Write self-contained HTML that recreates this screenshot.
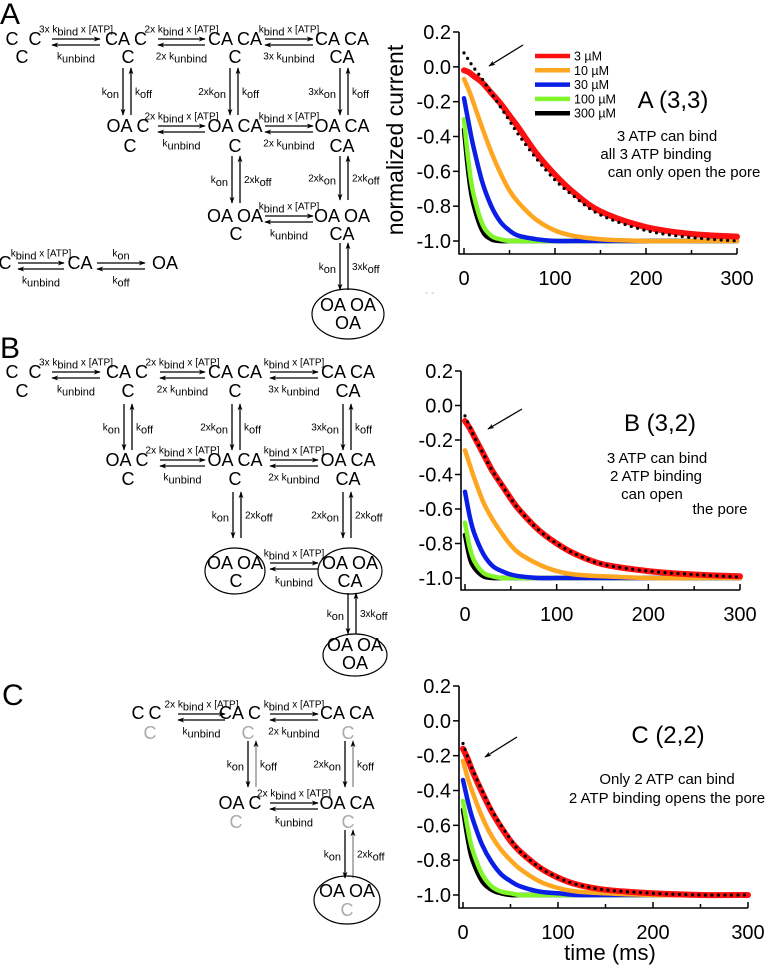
<!DOCTYPE html>
<html><head><meta charset="utf-8">
<style>
html,body{margin:0;padding:0;background:#fff;}
svg{display:block;font-family:"Liberation Sans",Arial,sans-serif;}
</style></head>
<body>
<svg id="fig" width="775" height="976" viewBox="0 0 775 976" xmlns="http://www.w3.org/2000/svg">
<defs>
<marker id="ah" viewBox="0 0 10 10" refX="9" refY="5" markerWidth="7" markerHeight="7" orient="auto-start-reverse" markerUnits="userSpaceOnUse"><path d="M0,1.5 L10,5 L0,8.5 L3,5 z" fill="#000"/></marker>
</defs>
<g id="diagrams"></g>
<g id="charts"></g>
</svg>
<script>
// ---------- chart data ----------
const times = [0,5,10,20,30,40,50,60,80,100,120,150,200,250,300];
const concLabels = ["3 µM","10 µM","30 µM","100 µM","300 µM"];
const seriesColors = ["#ff1010","#ffa620","#0a1ee6","#7ff52a","#000000"];
const xTicks = [0,100,200,300];
const yTicks = [0.2,0.0,-0.2,-0.4,-0.6,-0.8,-1.0];
const yTickLabels = ["0.2","0.0","-0.2","-0.4","-0.6","-0.8","-1.0"];

const a3uM   = [-0.02,-0.03,-0.05,-0.09,-0.15,-0.21,-0.28,-0.35,-0.50,-0.62,-0.72,-0.83,-0.92,-0.96,-0.975];
const a10uM  = [-0.07,-0.13,-0.20,-0.35,-0.49,-0.61,-0.71,-0.78,-0.88,-0.94,-0.97,-0.99,-1.0,-1.0,-1.0];
const a30uM  = [-0.18,-0.32,-0.45,-0.66,-0.80,-0.89,-0.94,-0.97,-0.99,-1.0,-1.0,-1.0,-1.0,-1.0,-1.0];
const a100uM = [-0.30,-0.55,-0.72,-0.90,-0.97,-0.99,-1.0,-1.0,-1.0,-1.0,-1.0,-1.0,-1.0,-1.0,-1.0];
const a300uM = [-0.36,-0.62,-0.78,-0.94,-0.99,-1.0,-1.0,-1.0,-1.0,-1.0,-1.0,-1.0,-1.0,-1.0,-1.0];
const aModel = [0.08,0.04,0.0,-0.07,-0.15,-0.23,-0.31,-0.39,-0.53,-0.65,-0.74,-0.85,-0.94,-0.98,-1.0];

const b3uM   = [-0.09,-0.13,-0.18,-0.28,-0.38,-0.46,-0.54,-0.61,-0.72,-0.80,-0.86,-0.92,-0.96,-0.98,-0.99];
const b10uM  = [-0.26,-0.34,-0.42,-0.56,-0.66,-0.74,-0.81,-0.86,-0.92,-0.96,-0.98,-0.99,-1.0,-1.0,-1.0];
const b30uM  = [-0.50,-0.64,-0.74,-0.86,-0.93,-0.96,-0.98,-0.99,-1.0,-1.0,-1.0,-1.0,-1.0,-1.0,-1.0];
const b100uM = [-0.68,-0.82,-0.90,-0.97,-0.99,-1.0,-1.0,-1.0,-1.0,-1.0,-1.0,-1.0,-1.0,-1.0,-1.0];
const b300uM = [-0.75,-0.88,-0.94,-0.99,-1.0,-1.0,-1.0,-1.0,-1.0,-1.0,-1.0,-1.0,-1.0,-1.0,-1.0];
const bModel = [-0.06,-0.12,-0.18,-0.28,-0.38,-0.46,-0.54,-0.61,-0.72,-0.80,-0.86,-0.92,-0.96,-0.98,-0.995];

const c3uM   = [-0.16,-0.22,-0.29,-0.41,-0.52,-0.61,-0.69,-0.75,-0.84,-0.90,-0.94,-0.97,-0.99,-1.0,-1.0];
const c10uM  = [-0.23,-0.33,-0.41,-0.55,-0.66,-0.74,-0.80,-0.85,-0.92,-0.96,-0.98,-0.99,-1.0,-1.0,-1.0];
const c30uM  = [-0.34,-0.46,-0.56,-0.71,-0.81,-0.88,-0.92,-0.95,-0.98,-0.99,-1.0,-1.0,-1.0,-1.0,-1.0];
const c100uM = [-0.46,-0.62,-0.74,-0.88,-0.95,-0.98,-0.99,-1.0,-1.0,-1.0,-1.0,-1.0,-1.0,-1.0,-1.0];
const c300uM = [-0.51,-0.68,-0.80,-0.92,-0.97,-0.99,-1.0,-1.0,-1.0,-1.0,-1.0,-1.0,-1.0,-1.0,-1.0];
const cModel = [-0.13,-0.21,-0.28,-0.40,-0.51,-0.60,-0.68,-0.75,-0.84,-0.90,-0.94,-0.97,-0.99,-1.0,-1.0];

const NS = "http://www.w3.org/2000/svg";
function mk(tag, parent, attrs){
  const e = document.createElementNS(NS, tag);
  for (const k in attrs) e.setAttribute(k, attrs[k]);
  parent.appendChild(e);
  return e;
}
const charts = document.getElementById("charts");
const diag = document.getElementById("diagrams");

function smooth(pts){
  let d = "M" + pts[0][0].toFixed(1) + "," + pts[0][1].toFixed(1);
  for (let i = 0; i < pts.length-1; i++){
    const p0 = pts[Math.max(0,i-1)], p1 = pts[i], p2 = pts[i+1], p3 = pts[Math.min(pts.length-1,i+2)];
    const c1x = p1[0] + (p2[0]-p0[0])/6, c1y = p1[1] + (p2[1]-p0[1])/6;
    const c2x = p2[0] - (p3[0]-p1[0])/6, c2y = p2[1] - (p3[1]-p1[1])/6;
    d += ` C${c1x.toFixed(1)},${c1y.toFixed(1)} ${c2x.toFixed(1)},${c2y.toFixed(1)} ${p2[0].toFixed(1)},${p2[1].toFixed(1)}`;
  }
  return d;
}

function drawChart(cfg){
  const g = mk("g", charts, {});
  
  
  const xs = v => cfg.x0 + (v/300)*(cfg.x300-cfg.x0);
  const ys = v => cfg.yTop + (0.2 - v)/1.2*(cfg.yBot - cfg.yTop);
  const ax = mk("path", g, {d:`M${cfg.ax},${cfg.yTop} L${cfg.ax},${cfg.axB} L${cfg.x300},${cfg.axB}`, fill:"none", stroke:"#000", "stroke-width":1.6});
  
  
  yTicks.forEach((v,i)=>{
    const y = ys(v);
    mk("line", g, {x1:cfg.ax-6, x2:cfg.ax, y1:y, y2:y, stroke:"#000","stroke-width":1.5});
    const t = mk("text", g, {x:cfg.ax-8, y:y+7, "font-size":20, "text-anchor":"end"});
    t.textContent = yTickLabels[i];
    
    
  });
  [0,50,100,150,200,250,300].forEach(v=>{
    const x = xs(v);
    mk("line", g, {x1:x, x2:x, y1:cfg.axB, y2:cfg.axB-(v%100===0?6:4), stroke:"#000","stroke-width":1.5});
  });
  xTicks.forEach(v=>{
    const t = mk("text", g, {x:xs(v), y:cfg.axB+31, "font-size":20, "text-anchor":"middle"});
    t.textContent = String(v);
    
    
  });
  for (let i = cfg.series.length-1; i >= 0; i--){
    const pts = cfg.series[i].map((v,j)=>[xs(times[j]), ys(v)]);
    const p = mk("path", g, {d:smooth(pts), fill:"none", stroke:seriesColors[i], "stroke-width": i===0?6:4.5, "stroke-linejoin":"round","stroke-linecap":"round"});
    
    
  }
  const mpts = cfg.model.map((v,j)=>[xs(times[j]), ys(v)]);
  const mp = mk("path", g, {d:smooth(mpts), fill:"none", stroke:"#000", "stroke-width":3.2, "stroke-dasharray":"0 6.5", "stroke-linecap":"round"});
  
  
  const ar = mk("line", g, {x1:cfg.arrow[0], y1:cfg.arrow[1], x2:cfg.arrow[2], y2:cfg.arrow[3], stroke:"#000","stroke-width":1.3, "marker-end":"url(#ah)"});
  
  
  const tt = mk("text", g, {x:cfg.title[1], y:cfg.title[2], "font-size":24, "text-anchor":"middle"});
  tt.textContent = cfg.title[0];
  
  
  cfg.notes.forEach(n=>{
    const t = mk("text", g, {x:n[1], y:n[2], "font-size":15, "text-anchor":"middle"});
    t.textContent = n[0];
    
    
  });
}

drawChart({name:"chart-a", ax:459, x0:464, x300:737, yTop:32, yBot:241, axB:254,
  series:[a3uM,a10uM,a30uM,a100uM,a300uM], model:aModel, arrow:[523,45,489,66],
  title:["A (3,3)",673,108], notes:[["3 ATP can bind",667,141],["all 3 ATP binding",656,159],["can only open the pore",684,177]]});
drawChart({name:"chart-b", ax:461, x0:465, x300:740, yTop:371, yBot:578, axB:590,
  series:[b3uM,b10uM,b30uM,b100uM,b300uM], model:bModel, arrow:[522,409,488,429],
  title:["B (3,2)",660,431], notes:[["3 ATP can bind",657,463],["2 ATP binding",656,481],["can open",652,499],["the pore",720,514]]});
drawChart({name:"chart-c", ax:459, x0:463, x300:748, yTop:686, yBot:895, axB:908,
  series:[c3uM,c10uM,c30uM,c100uM,c300uM], model:cModel, arrow:[517,737,485,757],
  title:["C (2,2)",668,743], notes:[["Only 2 ATP can bind",667,784],["2 ATP binding opens the pore",667,803]]});

concLabels.forEach((lab,i)=>{
  const y = 56 + i*14.3;
  const l = mk("line", charts, {x1:535, x2:570, y1:y, y2:y, stroke:seriesColors[i], "stroke-width":4.5});
  
  
  const t = mk("text", charts, {x:574, y:y+4.5, "font-size":12.5});
  t.textContent = lab;
  
  
});
const yt = mk("text", charts, {x:0, y:0, "font-size":23, "text-anchor":"middle", transform:"translate(403,140) rotate(-90)"});
yt.textContent = "normalized current";


const xt = mk("text", charts, {x:610, y:960, "font-size":22, "text-anchor":"middle"});
xt.textContent = "time (ms)";


mk("text", charts, {x:425, y:296, "font-size":10, fill:"#bbb"}).textContent = "- -";

// ---------- diagrams ----------
function st(x,y,txt,fill,anchor){
  const t = mk("text", diag, {x:x, y:y+6, "font-size":18, "text-anchor":anchor||"middle", fill:fill||"#000"});
  t.textContent = txt;
  
  
  return t;
}
function rate(x,y,str,anchor){
  const t = mk("text", diag, {x:x, y:y+3.5, "font-size":10, "text-anchor":anchor||"middle"});
  
  
  const parts = str.split(/(_\w+)/);
  parts.forEach(p=>{
    if (!p) return;
    const s = mk("tspan", t, {});
    if (p[0]==="_"){ s.textContent = p.slice(1); s.setAttribute("dy","3"); s.setAttribute("font-size","11"); }
    else { s.textContent = p; if (s.previousSibling) s.setAttribute("dy","-3"); }
  });
  return t;
}
function harr(x1,x2,y,top,bot){
  const a = mk("line", diag, {x1:x1, x2:x2, y1:y-3, y2:y-3, stroke:"#000","stroke-width":1.3,"marker-end":"url(#ah)"});
  
  
  const b = mk("line", diag, {x1:x2, x2:x1, y1:y+3, y2:y+3, stroke:"#000","stroke-width":1.3,"marker-end":"url(#ah)"});
  
  
  if (top) rate((x1+x2)/2, y-13, top);
  if (bot) rate((x1+x2)/2, y+14, bot);
}
function varr(x,y1,y2,left,right,upColor){
  const a = mk("line", diag, {x1:x-4, x2:x-4, y1:y1, y2:y2, stroke:"#000","stroke-width":1.3,"marker-end":"url(#ah)"});
  
  
  const b = mk("line", diag, {x1:x+4, x2:x+4, y1:y2, y2:y1, stroke:upColor||"#000","stroke-width":1.3,"marker-end":"url(#ah)"});
  
  
  const m = (y1+y2)/2;
  if (left) rate(x-8, m, left, "end");
  if (right) rate(x+8, m, right, "start");
}
function ell(cx,cy,rx,ry){
  const e = mk("ellipse", diag, {cx:cx, cy:cy, rx:rx, ry:ry, fill:"none", stroke:"#000","stroke-width":1.2});
  
  
}
function panel(lbl,x,y){
  const t = mk("text", diag, {x:x, y:y, "font-size":30});
  t.textContent = lbl;
  
  
}

panel("A",0,24);
st(12,39,"C");st(35,39,"C");st(22,57,"C");
harr(52,100,42,"3x k_bind x [ATP]","k_unbind");
st(126,39,"CA C");st(128,57,"C");
harr(158,205,42,"2x k_bind x [ATP]","2x k_unbind");
st(235,39,"CA CA");st(235,57,"C");
harr(265,313,42,"k_bind x [ATP]","3x k_unbind");
st(342,39,"CA CA");st(342,57,"CA");
varr(127,68,115,"k_on","k_off");
varr(234,68,115,"2xk_on","k_off");
varr(344,68,115,"3xk_on","k_off");
st(128,126,"OA C");st(130,146,"C");
harr(158,205,129,"2x k_bind x [ATP]","k_unbind");
st(235,126,"OA CA");st(235,146,"C");
harr(265,313,129,"k_bind x [ATP]","2x k_unbind");
st(342,126,"OA CA");st(342,146,"CA");
varr(236,156,203,"k_on","2xk_off");
varr(344,156,200,"2xk_on","2xk_off");
st(235,216,"OA OA");st(236,234,"C");
harr(265,313,219,"k_bind x [ATP]","k_unbind");
st(342,216,"OA OA");st(342,234,"CA");
varr(344,243,290,"k_on","3xk_off");
ell(348,314,36,25);st(348,305,"OA OA");st(348,323,"OA");
st(5,263,"C");
harr(18,64,266,"k_bind x [ATP]","k_unbind");
st(80,263,"CA");
harr(97,145,266,"k_on","k_off");
st(165,263,"OA");

panel("B",0,358);
st(12,372,"C");st(35,372,"C");st(22,391,"C");
harr(52,100,375,"3x k_bind x [ATP]","k_unbind");
st(127,372,"CA C");st(128,391,"C");
harr(160,205,375,"2x k_bind x [ATP]","2x k_unbind");
st(235,372,"CA CA");st(235,391,"C");
harr(270,318,375,"k_bind x [ATP]","3x k_unbind");
st(348,372,"CA CA");st(348,391,"CA");
varr(128,404,450,"k_on","k_off");
varr(236,404,450,"2xk_on","k_off");
varr(347,404,450,"3xk_on","k_off");
st(127,460,"OA C");st(128,479,"C");
harr(160,205,463,"2x k_bind x [ATP]","k_unbind");
st(235,460,"OA CA");st(235,479,"C");
harr(270,318,463,"k_bind x [ATP]","2x k_unbind");
st(348,460,"OA CA");st(348,479,"CA");
varr(237,492,538,"k_on","2xk_off");
varr(347,492,538,"2xk_on","2xk_off");
ell(235,571,30,23);st(235,563,"OA OA");st(236,581,"C");
harr(270,318,566,"k_bind x [ATP]","k_unbind");
ell(350,571,32,23);st(350,563,"OA OA");st(350,581,"CA");
varr(352,593,634,"k_on","3xk_off");
ell(355,655,32,21);st(355,645,"OA OA");st(355,663,"OA");

panel("C",2,705);
st(138,713,"C");st(155,713,"C");st(150,733,"C","#aaa");
harr(178,225,717,"2x k_bind x [ATP]","k_unbind");
st(240,713,"CA C");st(248,733,"C","#aaa");
harr(270,318,717,"k_bind x [ATP]","2x k_unbind");
st(347,713,"CA CA");st(348,733,"C","#aaa");
varr(252,741,787,"k_on","k_off","#888");
varr(349,741,787,"2xk_on","k_off","#888");
st(240,803,"OA C");st(236,822,"C","#aaa");
harr(270,318,806,"2x k_bind x [ATP]","k_unbind");
st(347,803,"OA CA");st(348,822,"C","#aaa");
varr(349,830,878,"k_on","2xk_off","#888");
ell(347,900,33,24);st(347,891,"OA OA");st(347,910,"C","#aaa");
</script>
</body></html>
